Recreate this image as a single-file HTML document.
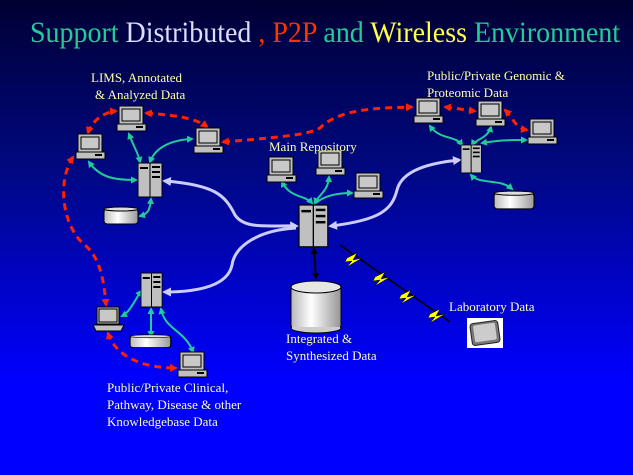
<!DOCTYPE html>
<html><head><meta charset="utf-8"><style>
html,body{margin:0;padding:0;width:633px;height:475px;overflow:hidden}
svg{display:block}
text{font-family:"Liberation Serif",serif}
</style></head><body>
<svg width="633" height="475" viewBox="0 0 633 475" xmlns="http://www.w3.org/2000/svg">
<defs>
<linearGradient id="bg" x1="0" y1="0" x2="0" y2="1">
<stop offset="0" stop-color="#000033"/>
<stop offset="0.35" stop-color="#000880"/>
<stop offset="0.8" stop-color="#0000ff"/>
<stop offset="1" stop-color="#0000ff"/>
</linearGradient>
<linearGradient id="cyl" x1="0" y1="0" x2="1" y2="0">
<stop offset="0" stop-color="#bbb"/><stop offset="0.4" stop-color="#fff"/><stop offset="1" stop-color="#999"/>
</linearGradient>
<g id="pc">
<rect x="2" y="0" width="24" height="18" fill="#c0c0c0" stroke="#000" stroke-width="1"/>
<rect x="5" y="3" width="18" height="12" fill="#c8c8c8" stroke="#000" stroke-width="1"/>
<rect x="0" y="18" width="29" height="7" fill="#c0c0c0" stroke="#000" stroke-width="1"/>
<rect x="19" y="20" width="7" height="2" fill="#000"/>
</g>
<g id="srv">
<rect x="0" y="0" width="12" height="34" fill="#c0c0c0" stroke="#000"/>
<rect x="12" y="0" width="12" height="34" fill="#c0c0c0" stroke="#000"/>
<rect x="2" y="4" width="8" height="2" fill="#000"/>
<rect x="14" y="3" width="8" height="2" fill="#000"/>
<rect x="14" y="8" width="8" height="2" fill="#000"/>
<rect x="14" y="13" width="8" height="2" fill="#000"/>
</g>
<g id="disk">
<rect x="0" y="3" width="34" height="15" rx="3" fill="url(#cyl)" stroke="#000"/>
<ellipse cx="17" cy="3" rx="17" ry="2" fill="#ddd" stroke="#000"/>
</g>
<marker id="ag" markerUnits="userSpaceOnUse" markerWidth="7" markerHeight="7" refX="5" refY="3.5" orient="auto-start-reverse"><path d="M0,0 L7,3.5 L0,7z" fill="#22cc99"/></marker>
<marker id="ar" markerUnits="userSpaceOnUse" markerWidth="8" markerHeight="8" refX="6" refY="4" orient="auto-start-reverse"><path d="M0,0 L8,4 L0,8z" fill="#ff2200"/></marker>
<marker id="al" markerUnits="userSpaceOnUse" markerWidth="9" markerHeight="9" refX="6" refY="4.5" orient="auto-start-reverse"><path d="M0,0 L9,4.5 L0,9z" fill="#ccccff"/></marker>
<marker id="ab" markerUnits="userSpaceOnUse" markerWidth="7" markerHeight="7" refX="5" refY="3.5" orient="auto-start-reverse"><path d="M0,0 L7,3.5 L0,7z" fill="#000"/></marker>
</defs>
<rect width="633" height="475" fill="url(#bg)"/>

<text x="30" y="42" font-size="30" textLength="590" lengthAdjust="spacingAndGlyphs"><tspan fill="#22cc99">Support </tspan><tspan fill="#ddddff">Distributed </tspan><tspan fill="#ff3300">, P2P </tspan><tspan fill="#22cc99">and </tspan><tspan fill="#ffff44">Wireless </tspan><tspan fill="#22cc99">Environment</tspan></text>

<g fill="none" stroke="#ccccff" stroke-width="3">
<path d="M165,181 C215,185 225,195 235,215 C245,230 270,225 296,226" marker-start="url(#al)" marker-end="url(#al)"/>
<path d="M296,228 C260,230 235,245 232,265 C228,285 200,292 165,292" marker-end="url(#al)"/>
<path d="M331,226 C380,220 392,210 397,190 C402,170 430,163 459,160" marker-start="url(#al)" marker-end="url(#al)"/>
</g>

<g fill="none" stroke="#ff2200" stroke-width="3" stroke-dasharray="7,5">
<path d="M88,133 C92,120 105,112 116,111" marker-start="url(#ar)" marker-end="url(#ar)"/>
<path d="M146,113 C170,115 195,117 207,127" marker-start="url(#ar)" marker-end="url(#ar)"/>
<path d="M223,142 C270,138 310,135 320,128 C340,108 380,108 412,107" marker-start="url(#ar)" marker-end="url(#ar)"/>
<path d="M73,157 C55,185 65,230 85,245 C100,258 104,280 106,305" marker-start="url(#ar)" marker-end="url(#ar)"/>
<path d="M445,107 C455,108 465,110 475,111" marker-start="url(#ar)" marker-end="url(#ar)"/>
<path d="M505,110 C515,120 515,128 527,130" marker-start="url(#ar)" marker-end="url(#ar)"/>
<path d="M108,333 C115,355 140,368 176,368" marker-start="url(#ar)" marker-end="url(#ar)"/>
</g>

<g fill="none" stroke="#22cc99" stroke-width="2">
<path d="M129,134 C135,150 138,152 140,162" marker-start="url(#ag)" marker-end="url(#ag)"/>
<path d="M150,162 C155,148 170,140 192,139" marker-start="url(#ag)" marker-end="url(#ag)"/>
<path d="M89,162 C100,178 115,180 136,180" marker-start="url(#ag)" marker-end="url(#ag)"/>
<path d="M151,199 C150,210 148,214 140,216" marker-start="url(#ag)" marker-end="url(#ag)"/>
<path d="M282,182 C290,198 305,195 312,203" marker-start="url(#ag)" marker-end="url(#ag)"/>
<path d="M329,177 C328,192 318,195 315,203" marker-start="url(#ag)" marker-end="url(#ag)"/>
<path d="M316,203 C325,195 340,193 352,193" marker-end="url(#ag)"/>
<path d="M430,126 C440,140 455,135 462,145" marker-start="url(#ag)" marker-end="url(#ag)"/>
<path d="M491,127 C488,138 475,140 472,145" marker-start="url(#ag)" marker-end="url(#ag)"/>
<path d="M482,143 C500,140 510,140 526,140" marker-start="url(#ag)" marker-end="url(#ag)"/>
<path d="M471,175 C480,185 500,178 512,189" marker-start="url(#ag)" marker-end="url(#ag)"/>
<path d="M141,291 C135,300 130,312 122,316" marker-start="url(#ag)" marker-end="url(#ag)"/>
<path d="M151,309 L151,336" marker-start="url(#ag)" marker-end="url(#ag)"/>
<path d="M161,309 C165,330 185,330 193,352" marker-start="url(#ag)" marker-end="url(#ag)"/>
</g>
<path d="M314,249 L316,278" stroke="#000" stroke-width="2" marker-start="url(#ab)" marker-end="url(#ab)"/>

<g stroke="#000" stroke-width="1.5" fill="none"><path d="M340,245 L450,322"/></g>
<g fill="#ffff00" stroke="#000" stroke-width="0.5">
<path d="M347,258 l10,-5 -4,7 9,-2 -15,9 5,-6 -7,1z"/>
<path d="M375,277 l10,-5 -4,7 9,-2 -15,9 5,-6 -7,1z"/>
<path d="M401,295 l10,-5 -4,7 9,-2 -15,9 5,-6 -7,1z"/>
<path d="M430,314 l10,-5 -4,7 9,-2 -15,9 5,-6 -7,1z"/>
</g>

<use href="#pc" x="117" y="106"/>
<use href="#pc" x="76" y="134"/>
<use href="#pc" x="194" y="128"/>
<use href="#srv" x="138" y="163"/>
<use href="#disk" x="104" y="206"/>

<use href="#pc" x="267" y="157"/>
<use href="#pc" x="316" y="150"/>
<use href="#pc" x="354" y="173"/>
<g transform="translate(299,205) scale(1.2,1.23)"><use href="#srv"/></g>
<rect x="291" y="287" width="50" height="41" fill="url(#cyl)" stroke="#000"/>
<ellipse cx="316" cy="328" rx="25" ry="5" fill="#ccc" stroke="#000"/>
<rect x="292" y="287" width="48" height="40" fill="url(#cyl)"/>
<ellipse cx="316" cy="287" rx="25" ry="6" fill="#e6e6e6" stroke="#000"/>

<use href="#pc" x="414" y="98"/>
<use href="#pc" x="476" y="101"/>
<use href="#pc" x="528" y="119"/>
<g transform="translate(461,145) scale(0.85,0.82)"><use href="#srv"/></g>
<g transform="translate(494,190) scale(1.18,1.05)"><use href="#disk"/></g>

<g transform="translate(141,273) scale(0.88,1)"><use href="#srv"/></g>
<rect x="97" y="307" width="22" height="17" fill="#c0c0c0" stroke="#000"/>
<rect x="99" y="309" width="18" height="13" fill="#c8c8c8" stroke="#000"/>
<path d="M93,325 L124,325 L121,331 L96,331z" fill="#c0c0c0" stroke="#000"/>
<g transform="translate(130,334) scale(1.2,0.75)"><use href="#disk"/></g>
<use href="#pc" x="178" y="352"/>

<rect x="467" y="318" width="36" height="30" fill="#fff"/>
<rect x="471" y="322" width="28" height="22" rx="3" fill="#777" stroke="#222" transform="rotate(-8 485 333)"/>
<rect x="474" y="324" width="22" height="17" rx="2" fill="#ccc" transform="rotate(-8 485 333)"/>

<g fill="#ffffaa" font-size="13">
<text x="91" y="82">LIMS, Annotated</text>
<text x="95" y="99">&amp; Analyzed Data</text>
<text x="269" y="151">Main Repository</text>
<text x="427" y="80">Public/Private Genomic &amp;</text>
<text x="427" y="97">Proteomic Data</text>
<text x="449" y="311">Laboratory Data</text>
<text x="286" y="343">Integrated &amp;</text>
<text x="286" y="360">Synthesized Data</text>
<text x="107" y="392">Public/Private Clinical,</text>
<text x="107" y="409">Pathway, Disease &amp; other</text>
<text x="107" y="426">Knowledgebase Data</text>
</g>
</svg>
</body></html>
